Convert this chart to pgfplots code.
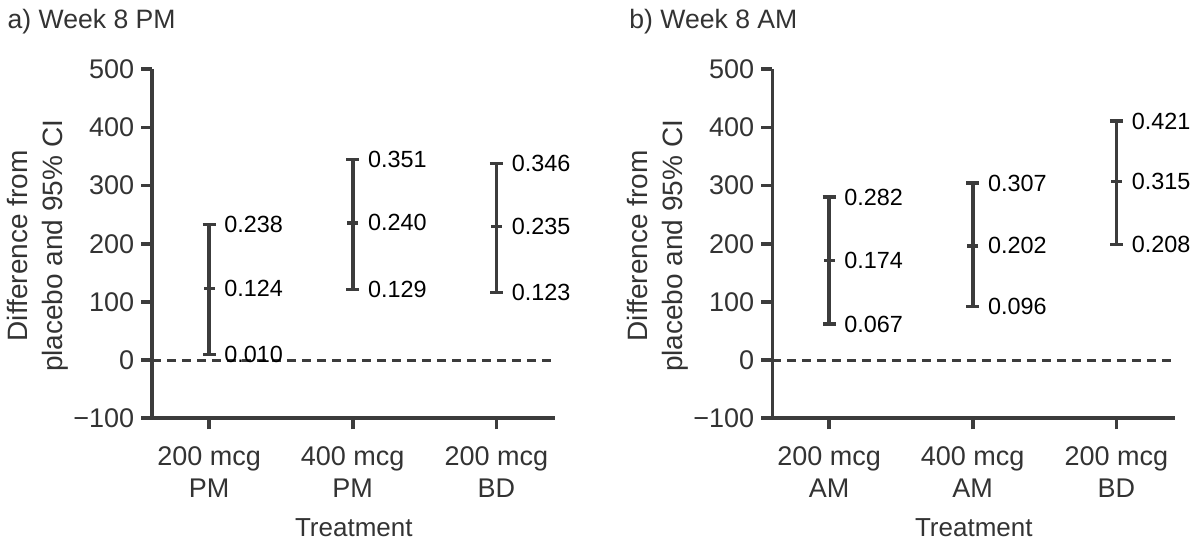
\documentclass[border=0pt]{standalone}
\usepackage{fontspec}
\setmainfont{Liberation Sans}
\usepackage{pgfplots}
\pgfplotsset{compat=1.18}
\usepackage{pgfplotstable}
\definecolor{axgray}{HTML}{3C3C3C}
\definecolor{txtgray}{HTML}{333333}

\pgfplotstableread{
x m lo hi lm llo lhi
0 123 10 233 0.124 0.010 0.238
1 236 121.5 345 0.240 0.129 0.351
2 230 116 338 0.235 0.123 0.346
}\pmdata

\pgfplotstableread{
x m lo hi lm llo lhi
0 171 62 280 0.174 0.067 0.282
1 196.5 92 304.5 0.202 0.096 0.307
2 307 199 411 0.315 0.208 0.421
}\amdata

\pgfplotsset{
  panel/.style={
    scale only axis, width=201.5pt, height=174.5pt,
    xmin=-0.395, xmax=2.41, ymin=-100, ymax=500,
    axis x line*=bottom, axis y line*=left,
    axis line style={axgray, line width=1.8pt, -},
    tick style={axgray, line width=1.8pt},
    tick align=outside, major tick length=5.5pt,
    ytick={-100,0,100,200,300,400,500},
    yticklabels={−100,0,100,200,300,400,500},
    xtick={0,1,2},
    ticklabel style={font=\fontsize{13.5}{16}\selectfont, text=txtgray},
    xticklabel style={align=center, yshift=-5pt},
    clip=false,
    ylabel={Difference from\\placebo and 95\% CI},
    ylabel style={at={(axis description cs:-0.285,0.494)}, anchor=center, align=center,
      font=\fontsize{14}{17.5}\selectfont, text=txtgray},
    xlabel={Treatment},
    xlabel style={at={(axis description cs:0.5,-0.34)}, anchor=base,
      font=\fontsize{13}{15}\selectfont, text=txtgray},
  },
  cibars/.style={only marks, mark=-, mark size=2.75pt,
    mark options={line width=1.8pt, draw=axgray},
    error bars/.cd, y dir=both, y explicit,
    error bar style={line width=1.8pt, draw=axgray},
    error mark options={rotate=90, mark size=3.25pt, line width=1.8pt, draw=axgray}},
  cilab/.style={draw=none, mark=none, nodes near coords, point meta=explicit symbolic,
    nodes near coords style={anchor=west, inner sep=0pt, xshift=7.5pt,
      font=\fontsize{11.7}{14}\selectfont, text=black}},
  zeroline/.style={axgray, line width=1.6pt, dash pattern=on 4.2pt off 3.3pt},
}
\tikzset{paneltitle/.style={anchor=base west, inner sep=0pt, font=\fontsize{13.3}{15}\selectfont, text=txtgray}}

\begin{document}
\begin{tikzpicture}
\begin{axis}[panel, at={(0pt,0pt)}, anchor=south west,
  xticklabels={{200 mcg\\PM},{400 mcg\\PM},{200 mcg\\BD}}]
  \addplot[zeroline] coordinates {(-0.395,0) (2.41,0)};
  \addplot[cibars] table[x=x, y=m, y error plus expr=\thisrow{hi}-\thisrow{m}, y error minus expr=\thisrow{m}-\thisrow{lo}] {\pmdata};
  \addplot[cilab] table[x=x, y=hi, meta=lhi] {\pmdata};
  \addplot[cilab] table[x=x, y=m, meta=lm] {\pmdata};
  \addplot[cilab] table[x=x, y=lo, meta=llo] {\pmdata};
  \node[paneltitle] at (rel axis cs:-0.36,1.1155) {a) Week 8 PM};
\end{axis}
\begin{axis}[panel, at={(310pt,0pt)}, anchor=south west,
  xticklabels={{200 mcg\\AM},{400 mcg\\AM},{200 mcg\\BD}}]
  \addplot[zeroline] coordinates {(-0.395,0) (2.41,0)};
  \addplot[cibars] table[x=x, y=m, y error plus expr=\thisrow{hi}-\thisrow{m}, y error minus expr=\thisrow{m}-\thisrow{lo}] {\amdata};
  \addplot[cilab] table[x=x, y=hi, meta=lhi] {\amdata};
  \addplot[cilab] table[x=x, y=m, meta=lm] {\amdata};
  \addplot[cilab] table[x=x, y=lo, meta=llo] {\amdata};
  \node[paneltitle] at (rel axis cs:-0.3556,1.1155) {b) Week 8 AM};
\end{axis}
\pgfresetboundingbox
\path[use as bounding box] (-76.15pt,-63.85pt) rectangle (523.85pt,209.15pt);
\end{tikzpicture}
\end{document}
